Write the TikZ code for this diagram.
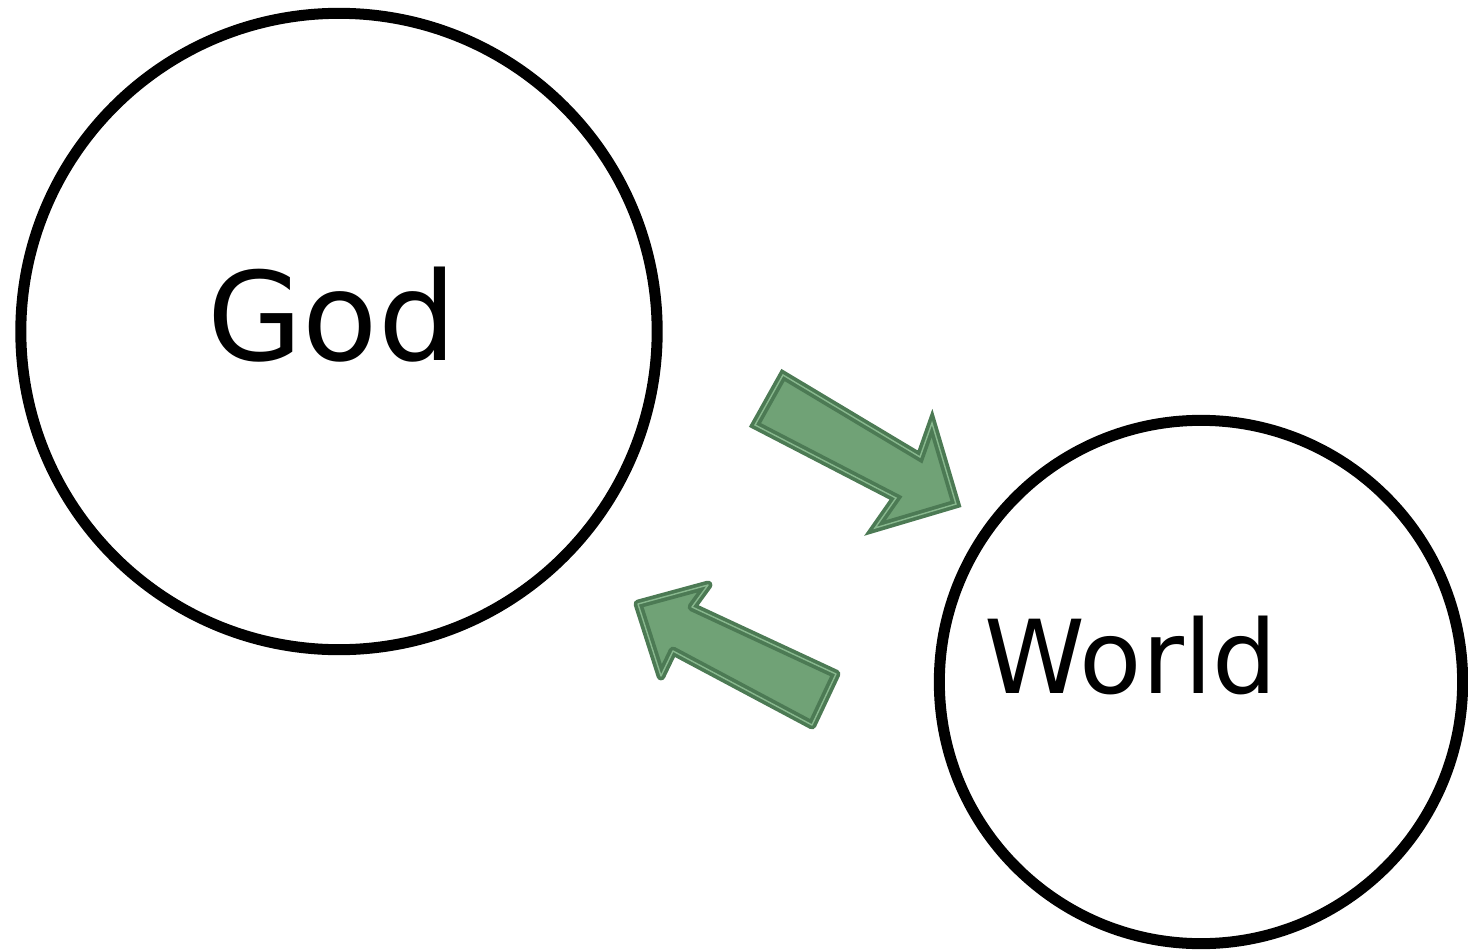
\documentclass[tikz,border=0pt]{standalone}
\usepackage{fontspec}
\newfontfamily\labelfont{DejaVu Sans}
\usepackage{tikz}
\usetikzlibrary{positioning}
\definecolor{ArrowFill}{RGB}{112,162,118}
\definecolor{ArrowEdge}{RGB}{76,122,84}
\definecolor{ArrowLine}{RGB}{136,184,142}
\tikzset{
  bigcircle/.style={draw=black, circle, line width=0.11cm, inner sep=0pt},
  bigword/.style={anchor=base, inner sep=0pt, font=\labelfont\fontsize{35}{40}\selectfont},
  fatarrow/.style={fill=ArrowFill, draw=ArrowEdge, double=ArrowLine, line width=1.05pt,
    double distance=0.4pt},
}

\begin{document}
\begin{tikzpicture}[x=0.01cm, y=-0.01cm]
  \useasboundingbox (0,0) rectangle (1468,951);
  % the two circles
  \node[bigcircle, minimum size=6.36cm] (god) at (339,331.5) {};
  \node[bigcircle, minimum size=5.23cm] (world) at (1201,682) {};
  \node[bigword] (godtxt) at (332,360) {God};
  \node[bigword, font=\labelfont\fontsize{29}{34}\selectfont] (worldtxt) at (1131,693) {World};
  % arrows between them
  \draw[fatarrow, line join=miter] (783,375) -- (920,457) -- (932,423) -- (956,504)
    -- (875,528) -- (896,498) -- (755,425) -- cycle;
  \draw[fatarrow, line join=round] (638,604) -- (708,585) -- (692,607) -- (836,674)
    -- (812,725) -- (673,651) -- (661,676) -- cycle;
\end{tikzpicture}
\end{document}
